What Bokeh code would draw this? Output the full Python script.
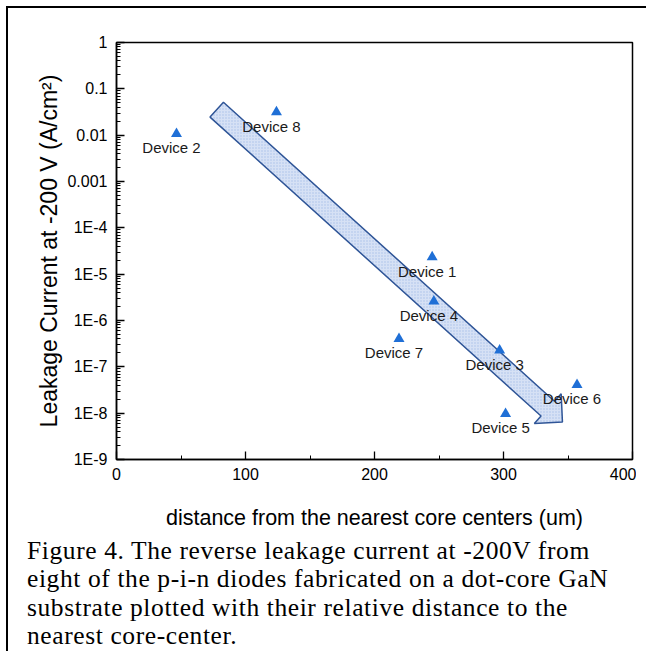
from bokeh.plotting import figure
from bokeh.models import Range1d, FixedTicker, CustomJSTickFormatter, Div, Title
from bokeh.layouts import column
from bokeh.embed import file_html
from bokeh.resources import INLINE
from bokeh.core.properties import value

# ---- data ----
devices = ["Device 1", "Device 2", "Device 3", "Device 4",
           "Device 5", "Device 6", "Device 7", "Device 8"]
distance = [244.7, 46.5, 297.0, 246.0, 301.6, 357.0, 219.0, 124.0]
leakage = [2.33e-5, 1.07e-2, 2.26e-7, 2.58e-6, 9.7e-9, 4.09e-8, 4.03e-7, 3.15e-2]

x_ticks = [0, 100, 200, 300, 400]
x_minor_ticks = [50, 150, 250, 350]
y_ticks = [1, 1e-1, 1e-2, 1e-3, 1e-4, 1e-5, 1e-6, 1e-7, 1e-8, 1e-9]
y_tick_labels = ["1", "0.1", "0.01", "0.001", "1E-4", "1E-5", "1E-6", "1E-7", "1E-8", "1E-9"]

# trend arrow outline (data units)
arrow_x = [82.9, 339.5, 344.7, 345.7, 323.9, 329.1, 72.5]
arrow_y = [5.12e-2, 1.81e-8, 2.62e-8, 6.44e-9, 6.01e-9, 8.69e-9, 2.455e-2]

x_label = "distance from the nearest core centers (um)"
y_label = "Leakage Current at -200 V (A/cm\u00b2)"
caption_lines = [
    "Figure 4. The reverse leakage current at -200V from",
    "eight of the p-i-n diodes fabricated on a dot-core GaN",
    "substrate plotted with their relative distance to the",
    "nearest core-center.",
]

# ---- figure ----
p = figure(width=628, height=524,
           x_range=Range1d(0, 400), y_range=Range1d(1e-9, 1),
           y_axis_type="log",
           output_backend="svg", toolbar_location=None,
           min_border_left=108, min_border_right=4,
           min_border_top=34, min_border_bottom=73)
p.xgrid.visible = False
p.ygrid.visible = False
p.outline_line_color = "black"
p.outline_line_width = 1.5
p.background_fill_color = "white"
p.border_fill_color = "white"

y_minor = [m * 10.0 ** e for e in range(-9, 0) for m in range(2, 10)]
p.xaxis.ticker = FixedTicker(ticks=x_ticks, minor_ticks=x_minor_ticks)
p.yaxis.ticker = FixedTicker(ticks=y_ticks, minor_ticks=y_minor)
p.yaxis.formatter = CustomJSTickFormatter(
    args=dict(labels=y_tick_labels),
    code="const e = Math.round(-Math.log10(tick)); return labels[e];")

for ax in (p.xaxis[0], p.yaxis[0]):
    ax.axis_line_color = "black"
    ax.axis_line_width = 1.5
    ax.major_tick_in = 8
    ax.major_tick_out = 0
    ax.minor_tick_in = 4
    ax.minor_tick_out = 0
    ax.major_tick_line_color = "black"
    ax.minor_tick_line_color = "black"
    ax.major_tick_line_width = 1.3
    ax.minor_tick_line_width = 1
    ax.major_label_text_font = "Liberation Sans"
    ax.major_label_text_font_size = "16px"
    ax.major_label_text_color = "black"
    ax.axis_label_text_font = "Liberation Sans"
    ax.axis_label_text_font_style = "normal"
    ax.axis_label_text_color = "black"

p.xaxis.axis_label = x_label
p.xaxis.axis_label_text_font_size = "21.5px"
p.xaxis.major_label_standoff = 8
p.yaxis.major_label_standoff = 9
p.xaxis.axis_label_standoff = 23

# y-axis title as a side title, nudged up like the reference
p.add_layout(Title(text=y_label, align="center", offset=13, standoff=5,
                   text_font="Liberation Sans", text_font_size="23px",
                   text_font_style="normal", text_color="black"), "left")

p.patch(arrow_x, arrow_y, fill_color="#d6e1f5", line_color="#2f5597",
        line_width=1.5, hatch_pattern="dot", hatch_color="#aabfe8",
        hatch_scale=3, hatch_weight=1)

p.scatter(distance, leakage, marker="triangle", size=11,
          fill_color="#1f6fd6", line_color=None)

p.text(x=distance, y=leakage, text=devices, x_offset=-5, y_offset=14,
       text_align="center", text_baseline="middle",
       text_font=value("Liberation Sans"), text_font_size="15px",
       text_color="#1a1a1a")

cap = Div(text=('<div style="font-family:\'Liberation Serif\';font-size:25.5px;'
                'line-height:28.3px;letter-spacing:0.6px;padding-left:14px;'
                'white-space:nowrap;color:black;">'
                + "<br>".join(caption_lines) + "</div>"),
          width=628, height=118)

layout = column(p, cap, styles={"border-left": "2px solid black",
                                "border-top": "2px solid black",
                                "margin-left": "6px",
                                "margin-top": "6px"})

open("out.html", "w").write(file_html(layout, INLINE))
